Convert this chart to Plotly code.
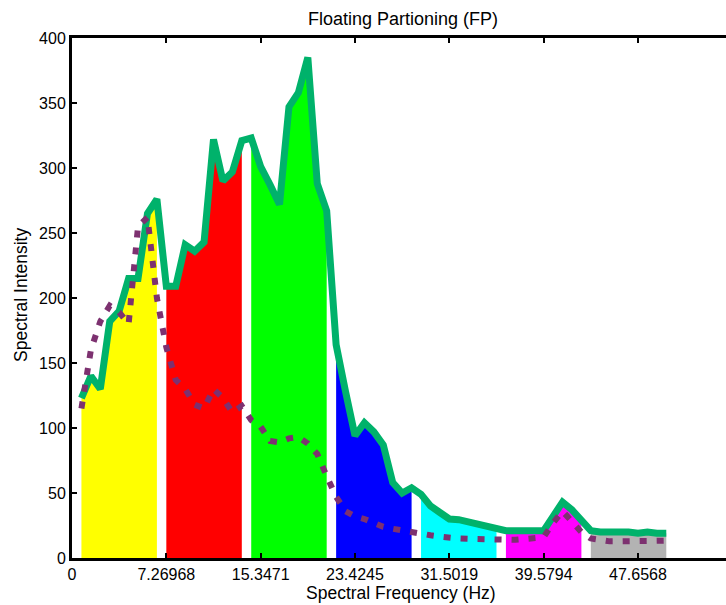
import plotly.graph_objects as go

# Spectrum bins (index along the frequency axis)
bins = list(range(1, 64))

# Measured spectral intensity per bin
intensity = [123, 140, 130, 182, 190, 215, 215, 265, 276,
             209, 209, 241, 236, 243, 322, 290, 297, 321,
             323, 301, 287, 272, 347, 358, 385, 288, 267,
             164, 128, 94, 104, 97, 87, 58, 50, 54,
             49, 40, 35, 30, 29.5, 28, 26.5, 25, 23,
             21, 21, 21, 21, 21, 32, 43, 37, 28,
             21, 20, 20, 21, 20, 19, 20, 19, 19]

# Reference (smoothed) spectrum, dotted curve
reference = [115, 160, 182, 194, 189, 180, 255, 262, 200,
             162, 137, 130, 118, 115, 130, 123, 112, 117,
             106, 101, 90, 89, 92, 93, 88, 80, 63,
             47, 36, 32, 30, 27, 24, 22.5, 21, 20,
             18.5, 17.5, 16.5, 15.5, 15, 14.7, 14.4, 14, 13.8,
             13.5, 14, 14.6, 15, 16, 27, 36, 28, 20,
             15, 13.5, 12.8, 12.8, 13, 13, 13.3, 13.3, 13.3]

# Floating partitions: 9 bins each
partition_size = 9
partition_colors = ["#FFFF00", "#FF0000", "#00FF00", "#0000FF",
                    "#00FFFF", "#FF00FF", "#B3B3B3"]

# Axis ticks (bin index) and their frequency labels
tick_bins = [0, 10, 20, 30, 40, 50, 60]
tick_labels = ["0", "7.26968", "15.3471", "23.4245", "31.5019", "39.5794", "47.6568"]
y_ticks = list(range(0, 401, 50))

FONT = "Liberation Sans, Arial, sans-serif"

fig = go.Figure()

for k, color in enumerate(partition_colors):
    seg = slice(k * partition_size, (k + 1) * partition_size)
    fig.add_trace(go.Scatter(
        x=bins[seg], y=intensity[seg], mode="lines", fill="tozeroy",
        fillcolor=color, line=dict(width=0, color=color),
        hoverinfo="skip", showlegend=False))

fig.add_trace(go.Scatter(
    x=bins, y=intensity, mode="lines",
    line=dict(color="#00B26B", width=7), showlegend=False))

fig.add_trace(go.Scatter(
    x=bins, y=reference, mode="lines",
    line=dict(color="#7D3170", width=6, dash="7px,10px"), showlegend=False))

fig.update_layout(
    width=726, height=605,
    margin=dict(l=72, r=0, t=38, b=47),
    paper_bgcolor="white", plot_bgcolor="white",
    font=dict(family=FONT, color="black"),
    title=dict(text="Floating Partioning (FP)", font=dict(size=18, family=FONT),
               x=403 / 726, xref="container", xanchor="center",
               y=1 - 19 / 605, yref="container", yanchor="middle"),
    xaxis=dict(range=[0, 69.33], tickvals=tick_bins, ticktext=tick_labels,
               ticks="inside", ticklen=5, tickwidth=2, tickcolor="black",
               showline=True, linewidth=3, linecolor="black", mirror="ticks",
               showgrid=False, zeroline=False,
               tickfont=dict(size=16, family=FONT, color="black")),
    yaxis=dict(range=[0, 400], tickvals=y_ticks,
               ticks="inside", ticklen=5, tickwidth=2, tickcolor="black",
               showline=True, linewidth=3, linecolor="black", mirror=False,
               showgrid=False, zeroline=False,
               tickfont=dict(size=16, family=FONT, color="black")),
    annotations=[
        dict(text="Spectral Frequency (Hz)", xref="paper", yref="paper",
             x=(401 - 72) / 654, y=(558 - 593) / 520, xanchor="center", yanchor="middle",
             showarrow=False, font=dict(size=17.5, family=FONT, color="black")),
        dict(text="Spectral Intensity", xref="paper", yref="paper",
             x=(21 - 72) / 654, y=(558 - 295) / 520, xanchor="center", yanchor="middle",
             textangle=-90, showarrow=False,
             font=dict(size=17.5, family=FONT, color="black")),
    ],
)

fig.write_html("out.html")
